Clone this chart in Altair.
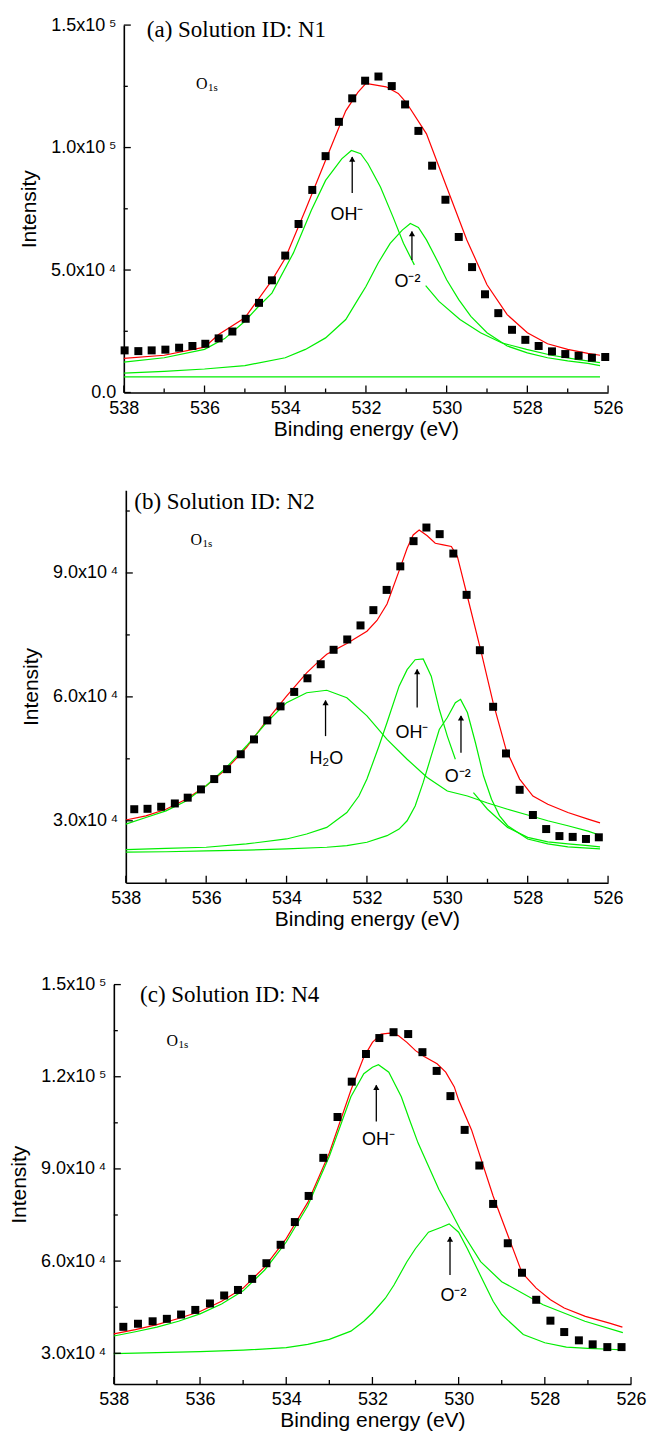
import altair as alt
import pandas as pd

K = 1000.0  # intensities below are written in thousands of counts

# ---------------- Panel (a): Solution ID N1 ----------------
a_pts_x = [537.98, 537.64, 537.31, 536.97, 536.63, 536.30, 535.98, 535.65, 535.31, 534.98,
           534.65, 534.33, 534.00, 533.67, 533.33, 533.00, 532.67, 532.34, 532.02, 531.69,
           531.36, 531.03, 530.70, 530.36, 530.03, 529.70, 529.37, 529.05, 528.72, 528.38,
           528.05, 527.72, 527.39, 527.06, 526.73, 526.40, 526.07]
a_pts_y = [17.2, 16.9, 17.2, 17.5, 18.3, 19.0, 19.9, 22.1, 24.9, 30.1,
           36.6, 45.8, 55.9, 68.8, 82.7, 96.5, 110.5, 120.1, 127.3, 129.0,
           125.1, 117.6, 106.8, 92.6, 78.7, 63.5, 51.2, 40.1, 32.4, 25.6,
           21.5, 19.0, 16.8, 15.7, 15.0, 14.2, 14.5]
a_fit_x = [538, 537, 536, 535.65, 535, 534.33, 534, 533.5, 533, 532.5, 532.2, 532, 531.5,
           531.2, 531, 530.5, 530, 529.5, 529, 528.5, 528, 527.5, 527, 526.5, 526.2]
a_fit_y = [13.9, 15.2, 18.5, 23.7, 30.5, 45.8, 54.8, 74.5, 94.8, 115.0, 122.5, 126.2, 124.8,
           122.1, 118.4, 105.6, 83.9, 62.3, 44.0, 31.8, 24.4, 19.9, 17.6, 16.0, 15.2]
a_oh1_x = [538, 537, 536, 535.5, 535, 534.7, 534.33, 533.8, 533.35, 533.0, 532.6, 532.36,
           532.13, 531.95, 531.64, 531.33, 531.07, 530.8]
a_oh1_y = [12.4, 14.2, 17.6, 22.0, 29.1, 34.5, 40.6, 56.9, 74.5, 86.6, 95.4, 98.8,
           97.5, 93.4, 83.9, 71.7, 60.9, 52.1]
a_oh2_x = [530.52, 530.19, 529.67, 529.16, 528.64, 528.02, 527.4, 526.78, 526.2]
a_oh2_y = [43.6, 37.2, 29.8, 24.4, 20.3, 17.6, 15.2, 13.5, 12.2]
a_o2_x = [538, 537, 536, 535, 534, 533.5, 533, 532.5, 532.2, 532, 531.7, 531.4, 531.1, 530.9,
          530.7, 530.5, 530.2, 530, 529.7, 529.4, 529, 528.5, 528, 527.5, 527, 526.5, 526.2]
a_o2_y = [7.9, 8.6, 9.6, 11.0, 14.2, 17.6, 22.3, 29.8, 37.9, 43.3, 52.8, 60.9, 66.3, 69.0,
          67.4, 62.3, 52.8, 46.0, 37.9, 31.1, 24.4, 19.0, 16.2, 14.2, 12.9, 11.9, 11.0]
a_base_x = [538, 526.2]
a_base_y = [6.4, 6.4]
a_arrow_x = [532.34, 530.86]
a_arrow_y1 = [81.5, 54.1]
a_arrow_y2 = [96.1, 65.7]
a_lab_text = ["OH\u207b", "O\u207b\u00b2"]
a_lab_x = [532.47, 530.97]
a_lab_y = [72.4, 45.3]
a_title = "(a) Solution ID: N1"
a_title_xy = (537.43, 147.8)
a_o1s_xy = (536.21, 125.9)

# ---------------- Panel (b): Solution ID N2 ----------------
b_pts_x = [537.79, 537.46, 537.12, 536.78, 536.46, 536.13, 535.80, 535.48, 535.14, 534.81,
           534.48, 534.15, 533.81, 533.48, 533.15, 532.83, 532.49, 532.16, 531.84, 531.51,
           531.17, 530.84, 530.52, 530.19, 529.85, 529.52, 529.19, 528.86, 528.54, 528.20,
           527.87, 527.54, 527.21, 526.88, 526.55, 526.23]
b_pts_y = [32.8, 32.9, 33.4, 34.2, 35.6, 37.6, 40.1, 42.5, 46.1, 49.7,
           54.3, 57.7, 61.2, 64.5, 67.9, 71.4, 73.9, 77.3, 81.0, 85.9,
           91.6, 97.7, 101.0, 99.4, 94.7, 84.7, 71.3, 57.6, 46.3, 37.5,
           31.4, 28.0, 26.3, 26.1, 25.6, 26.0]
b_fit_x = [538, 537.5, 537, 536.5, 536, 535.5, 535, 534.5, 534, 533.5, 533.2, 533, 532.5, 532,
           531.75, 531.5, 531.2, 531, 530.85, 530.7, 530.5, 530.3, 530.1, 529.9, 529.75, 529.5,
           529.17, 528.86, 528.54, 528.2, 527.87, 527.5, 527, 526.5, 526.2]
b_fit_y = [30.2, 31.2, 32.8, 35.2, 38.5, 42.5, 47.7, 54.2, 60.2, 65.8, 68.6, 70.3, 72.9, 75.9,
           78.5, 82.5, 90.5, 96.0, 99.2, 100.4, 99.0, 97.2, 96.8, 96.4, 94.0, 84.3,
           71.4, 58.6, 47.3, 40.1, 36.0, 34.0, 32.0, 30.4, 29.5]
b_h2o_x = [538, 537.5, 537, 536.5, 536, 535.5, 535, 534.5, 534, 533.5, 533, 532.5, 532, 531.5,
           531, 530.5, 530, 529.5, 529, 528.5, 528, 527.5, 527, 526.5, 526.2]
b_h2o_y = [29.2, 30.8, 32.4, 34.8, 38.5, 42.9, 48.1, 53.8, 58.6, 61.0, 61.6, 59.8, 55.4, 49.7,
           44.9, 40.5, 37.2, 36.0, 34.3, 32.8, 31.4, 30.0, 28.8, 27.5, 26.5]
b_oh1_x = [538, 537, 536, 535, 534, 533.5, 533, 532.5, 532.2, 532, 531.7, 531.5, 531.2, 531,
           530.8, 530.6, 530.4, 530.2, 530, 529.8]
b_oh1_y = [23.0, 23.3, 23.6, 24.4, 25.6, 26.8, 28.4, 32.0, 36.0, 40.1, 48.1, 53.8, 62.6, 66.6,
           69.0, 69.2, 65.0, 57.0, 50.5, 44.9]
b_oh2_x = [529.35, 529, 528.5, 528, 527.5, 527, 526.5, 526.2]
b_oh2_y = [36.8, 32.8, 28.4, 26.0, 24.9, 24.4, 24.0, 23.7]
b_o2_x = [538, 537, 536, 535, 534, 533, 532.5, 532, 531.5, 531.2, 531, 530.8, 530.6, 530.4,
          530.2, 530, 529.8, 529.67, 529.5, 529.3, 529.1, 528.9, 528.7, 528.5, 528, 527.5,
          527, 526.5, 526.2]
b_o2_y = [22.4, 22.5, 22.7, 22.9, 23.2, 23.6, 24.0, 24.8, 26.4, 28.0, 30.0, 33.6, 39.3, 45.7,
          52.1, 55.0, 58.6, 59.4, 56.2, 48.9, 40.9, 35.2, 31.2, 28.8, 25.6, 24.4,
          23.7, 23.4, 23.2]
b_arrow_x = [533.03, 530.75, 529.66]
b_arrow_y1 = [50.5, 57.4, 46.5]
b_arrow_y2 = [59.1, 66.6, 55.4]
b_lab_text = ["H\u2082O", "OH\u207b", "O\u207b\u00b2"]
b_lab_x = [533.01, 530.88, 529.74]
b_lab_y = [44.9, 51.3, 40.5]
b_title = "(b) Solution ID: N2"
b_title_xy = (537.79, 107.3)
b_o1s_xy = (536.39, 98.0)

# ---------------- Panel (c): Solution ID N4 ----------------
c_pts_x = [537.78, 537.44, 537.10, 536.77, 536.44, 536.11, 535.77, 535.44, 535.12, 534.79,
           534.46, 534.13, 533.80, 533.48, 533.14, 532.81, 532.48, 532.15, 531.84, 531.51,
           531.17, 530.84, 530.51, 530.19, 529.86, 529.52, 529.20, 528.86, 528.53, 528.20,
           527.87, 527.55, 527.21, 526.89, 526.55, 526.22]
c_pts_y = [38.6, 39.6, 40.4, 41.2, 42.6, 44.1, 46.2, 48.8, 50.6, 54.2,
           59.3, 65.3, 72.7, 81.2, 93.6, 106.9, 118.4, 127.4, 132.6, 134.5,
           133.9, 128.0, 121.9, 113.7, 102.7, 91.1, 78.6, 65.8, 56.2, 47.4,
           40.6, 36.9, 34.2, 32.9, 32.0, 32.0]
c_fit_x = [538, 537.5, 537, 536.5, 536, 535.5, 535, 534.5, 534, 533.5, 533, 532.5, 532.2, 532,
           531.8, 531.6, 531.4, 531.2, 531, 530.8, 530.5, 530.3, 530.1, 530, 529.7, 529.5,
           529.2, 529, 528.53, 528.2, 527.87, 527.55, 527.06, 526.5, 526.2]
c_fit_y = [36.3, 37.7, 39.3, 41.3, 43.6, 46.9, 51.2, 58.1, 67.3, 79.1, 95.2, 115.6, 126.4, 131.2,
           133.9, 134.2, 133.4, 131.2, 128.5, 126.6, 124.2, 121.5, 116.7, 112.4, 102.7, 94.1,
           81.2, 73.7, 56.2, 51.2, 47.4, 44.7, 42.0, 39.8, 38.5]
c_oh_x = [538, 537.5, 537, 536.5, 536, 535.5, 535, 534.5, 534, 533.5, 533, 532.5, 532.2, 532,
          531.86, 531.62, 531.33, 531.14, 530.94, 530.46, 530.17, 529.97, 529.49, 529.0,
          528.04, 527.07, 526.19]
c_oh_y = [35.6, 37.0, 38.5, 40.4, 42.8, 46.0, 50.3, 57.1, 66.2, 78.0, 94.1, 113.5, 121.0, 123.1,
          123.9, 121.5, 113.5, 106.0, 98.4, 83.4, 75.9, 70.5, 59.8, 53.3,
          45.8, 40.4, 36.7]
c_o2_x = [538, 537, 536, 535, 534, 533.5, 533, 532.5, 532.2, 532, 531.7, 531.5, 531.2, 531,
          530.7, 530.4, 530.22, 530, 529.8, 529.5, 529.2, 529, 528.5, 528, 527.5, 527, 526.5,
          526.2]
c_o2_y = [29.9, 30.2, 30.5, 31.0, 31.8, 32.9, 34.5, 37.2, 40.4, 43.1, 47.9, 52.2, 59.8, 64.1,
          69.4, 71.0, 72.1, 69.4, 64.1, 55.5, 46.9, 42.6, 36.1, 33.4, 32.0, 31.6, 31.3,
          31.1]
c_arrow_x = [531.91, 530.20]
c_arrow_y1 = [105.4, 55.5]
c_arrow_y2 = [117.2, 67.8]
c_lab_text = ["OH\u207b", "O\u207b\u00b2"]
c_lab_x = [531.86, 530.12]
c_lab_y = [99.5, 48.5]
c_title = "(c) Solution ID: N4"
c_title_xy = (537.39, 146.6)
c_o1s_xy = (536.78, 131.7)

# ---------------- Axes ----------------
x_label_vals = [538, 536, 534, 532, 530, 528, 526]
x_minor_vals = [537, 535, 533, 531, 529, 527]
a_ydom = [0, 150000]
a_ymajor = [0, 50000, 100000, 150000]
a_yminor = [25000, 75000, 125000]
b_ydom = [15000, 110000]
b_ymajor = [30000, 60000, 90000]
b_yminor = [45000, 75000, 105000]
c_ydom = [20000, 150000]
c_ymajor = [30000, 60000, 90000, 120000, 150000]
c_yminor = [45000, 75000, 105000, 135000]

RED = "#ff0000"
GREEN = "#00ee00"
SANS = "Liberation Sans"
SERIF = "Liberation Serif"

Y_LABEL_EXPR = ("datum.value == 0 ? '0.0' : (datum.value >= 100000 ? "
                "format(datum.value / 100000, '.1f') + 'x10\u2009\u2075' : "
                "format(datum.value / 10000, '.1f') + 'x10\u2009\u2074')")


def curve_df(curves):
    rows = []
    for name, kind, xs, ys in curves:
        for x, y in zip(xs, ys):
            rows.append({"x": x, "y": y * K, "curve": name, "kind": kind})
    return pd.DataFrame(rows)


def make_panel(p):
    W, H, X0 = p["w"], p["h"], p["x0"]
    xsc = alt.Scale(domain=[538, 526], range=[X0, W], nice=False, zero=False)
    ysc = alt.Scale(domain=p["ydom"], nice=False, zero=False)
    xax = alt.Axis(values=x_label_vals, format="d", title="Binding energy (eV)",
                   ticks=False, tickSize=0, grid=False, labelPadding=7, titlePadding=1,
                   labelFlush=False, labelOverlap=False)
    yax = alt.Axis(values=p["ymajor"], labelExpr=Y_LABEL_EXPR, title="Intensity",
                   ticks=False, tickSize=0, grid=False, labelPadding=8, titlePadding=11,
                   labelFlush=False, labelOverlap=False, labelBaseline="middle",
                   offset=-X0)
    X = lambda f="x": alt.X(f + ":Q", scale=xsc, axis=xax)
    Y = lambda f="y": alt.Y(f + ":Q", scale=ysc, axis=yax)

    lines = alt.Chart(curve_df(p["curves"])).mark_line(strokeWidth=1.2).encode(
        x=X(), y=Y(),
        color=alt.Color("kind:N", scale=alt.Scale(domain=["fit", "comp"], range=[RED, GREEN]),
                        legend=None),
        detail="curve:N",
    )
    pts = alt.Chart(pd.DataFrame({"x": p["px"], "y": [v * K for v in p["py"]]})).mark_square(
        size=64, color="black", opacity=1).encode(x=X(), y=Y())

    arr_df = pd.DataFrame({"x": p["ax"], "y": [v * K for v in p["ay1"]],
                           "y2": [v * K for v in p["ay2"]]})
    shafts = alt.Chart(arr_df).mark_rule(color="black", strokeWidth=1.3).encode(
        x=X(), y=Y(), y2=alt.Y2("y2:Q"))
    heads = alt.Chart(arr_df).mark_point(shape="triangle-up", filled=True, color="black",
                                         size=38, opacity=1, yOffset=2).encode(
        x=X(), y=Y("y2"))

    lab_df = pd.DataFrame({"x": p["lx"], "y": [v * K for v in p["ly"]], "t": p["lt"]})
    labels = alt.Chart(lab_df).mark_text(font=SANS, fontSize=18, color="black",
                                         align="center", baseline="middle").encode(
        x=X(), y=Y(), text="t:N")

    tdf = pd.DataFrame({"x": [p["title_xy"][0]], "y": [p["title_xy"][1] * K], "t": [p["title"]]})
    title = alt.Chart(tdf).mark_text(font=SERIF, fontSize=23, color="black", align="left",
                                     baseline="middle").encode(x=X(), y=Y(), text="t:N")
    odf = pd.DataFrame({"x": [p["o1s_xy"][0]], "y": [p["o1s_xy"][1] * K], "t": ["O"], "s": ["1s"]})
    o_big = alt.Chart(odf).mark_text(font=SERIF, fontSize=16, color="black", align="left",
                                     baseline="middle").encode(x=X(), y=Y(), text="t:N")
    o_sub = alt.Chart(odf).mark_text(font=SERIF, fontSize=11, color="black", align="left",
                                     baseline="middle", dx=12, dy=4).encode(x=X(), y=Y(), text="s:N")

    xmaj = alt.Chart(pd.DataFrame({"x": x_label_vals})).mark_rule(color="black", strokeWidth=1.3).encode(
        x=X(), y=alt.value(H), y2=alt.value(H - 7))
    xmin = alt.Chart(pd.DataFrame({"x": x_minor_vals})).mark_rule(color="black", strokeWidth=1.3).encode(
        x=X(), y=alt.value(H), y2=alt.value(H - 4))
    ymaj = alt.Chart(pd.DataFrame({"y": p["ymajor"]})).mark_rule(color="black", strokeWidth=1.3).encode(
        y=Y(), x=alt.value(X0), x2=alt.value(X0 + 7))
    ymin = alt.Chart(pd.DataFrame({"y": p["yminor"]})).mark_rule(color="black", strokeWidth=1.3).encode(
        y=Y(), x=alt.value(X0), x2=alt.value(X0 + 4))

    return alt.layer(lines, pts, shafts, heads, labels, title, o_big, o_sub,
                     xmaj, xmin, ymaj, ymin).properties(width=W, height=H)


pa = make_panel(dict(
    w=485, h=368, x0=0, ydom=a_ydom, ymajor=a_ymajor, yminor=a_yminor,
    curves=[("fit", "fit", a_fit_x, a_fit_y), ("oh1", "comp", a_oh1_x, a_oh1_y),
            ("oh2", "comp", a_oh2_x, a_oh2_y), ("o2", "comp", a_o2_x, a_o2_y),
            ("base", "comp", a_base_x, a_base_y)],
    px=a_pts_x, py=a_pts_y, ax=a_arrow_x, ay1=a_arrow_y1, ay2=a_arrow_y2,
    lx=a_lab_x, ly=a_lab_y, lt=a_lab_text, title=a_title, title_xy=a_title_xy, o1s_xy=a_o1s_xy))

pb = make_panel(dict(
    w=485, h=393, x0=2, ydom=b_ydom, ymajor=b_ymajor, yminor=b_yminor,
    curves=[("fit", "fit", b_fit_x, b_fit_y), ("h2o", "comp", b_h2o_x, b_h2o_y),
            ("oh1", "comp", b_oh1_x, b_oh1_y), ("oh2", "comp", b_oh2_x, b_oh2_y),
            ("o2", "comp", b_o2_x, b_o2_y)],
    px=b_pts_x, py=b_pts_y, ax=b_arrow_x, ay1=b_arrow_y1, ay2=b_arrow_y2,
    lx=b_lab_x, ly=b_lab_y, lt=b_lab_text, title=b_title, title_xy=b_title_xy, o1s_xy=b_o1s_xy))

pc = make_panel(dict(
    w=508, h=400, x0=-10, ydom=c_ydom, ymajor=c_ymajor, yminor=c_yminor,
    curves=[("fit", "fit", c_fit_x, c_fit_y), ("oh", "comp", c_oh_x, c_oh_y),
            ("o2", "comp", c_o2_x, c_o2_y)],
    px=c_pts_x, py=c_pts_y, ax=c_arrow_x, ay1=c_arrow_y1, ay2=c_arrow_y2,
    lx=c_lab_x, ly=c_lab_y, lt=c_lab_text, title=c_title, title_xy=c_title_xy, o1s_xy=c_o1s_xy))


def gap(h):
    return alt.Chart(pd.DataFrame({"s": [0]})).mark_point(opacity=0, size=1).encode(
        x=alt.value(0), y=alt.value(0)).properties(width=1, height=h)


chart = alt.vconcat(
    pa, gap(98), pb, gap(102), pc,
    spacing=0, bounds="flush",
).properties(
    padding={"left": 0, "top": 7, "right": 0, "bottom": 0}
).configure_view(strokeWidth=0).configure_axis(
    domainColor="black", domainWidth=1.6, labelColor="black", titleColor="black",
    labelFont=SANS, titleFont=SANS, labelFontSize=18, titleFontSize=21,
    titleFontWeight="normal",
)

chart.save("out.html", embed_options={"renderer": "svg", "actions": False})
